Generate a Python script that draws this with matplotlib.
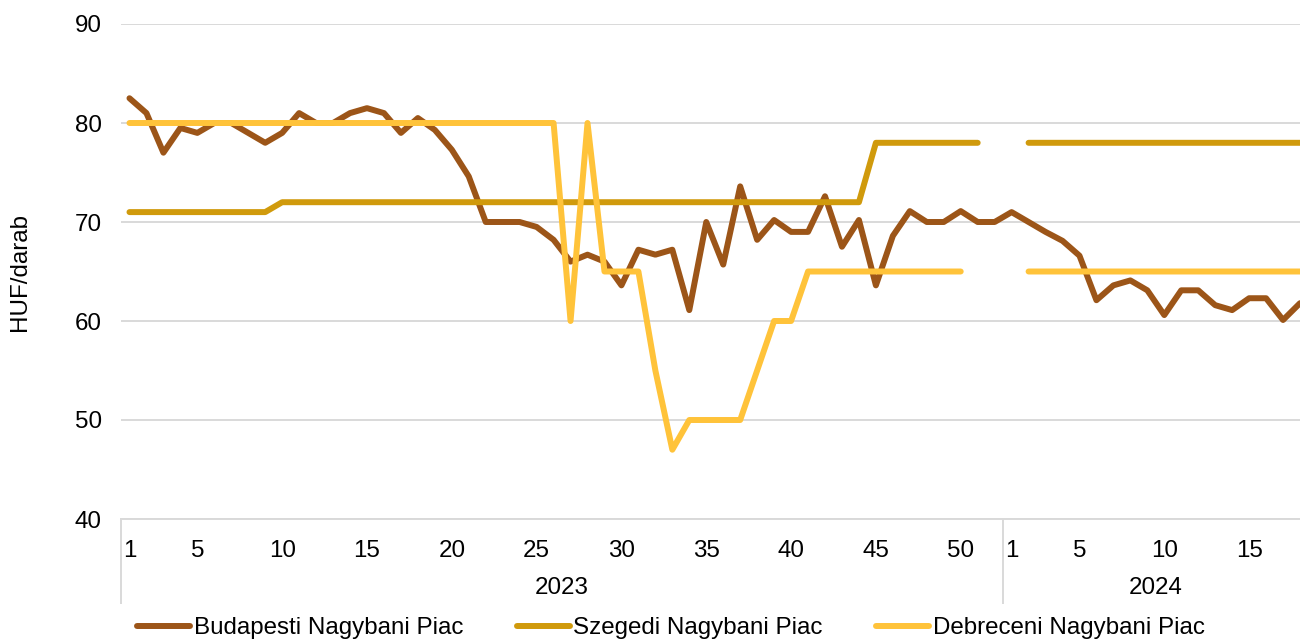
import numpy as np
import matplotlib
matplotlib.use("Agg")
import matplotlib.pyplot as plt

nan = np.nan

weeks_2023 = list(range(1, 53))
weeks_2024 = list(range(1, 19))
years = ["2023", "2024"]

budapest = [82.5, 81, 77, 79.5, 79, 80, 80, 79, 78, 79,
            81, 80, 80, 81, 81.5, 81, 79, 80.5, 79.3, 77.3,
            74.6, 70, 70, 70, 69.5, 68.2, 66, 66.7, 66, 63.6,
            67.2, 66.7, 67.2, 61.1, 70, 65.7, 73.6, 68.2, 70.2, 69,
            69, 72.6, 67.5, 70.2, 63.6, 68.6, 71.1, 70, 70, 71.1,
            70, 70,
            71, 70, 69, 68.1, 66.6, 62.1, 63.6, 64.1, 63.1, 60.6,
            63.1, 63.1, 61.6, 61.1, 62.3, 62.3, 60.1, 61.8]

szeged = [71] * 9 + [72] * 35 + [78] * 7 + [nan] + [nan] + [78] * 17

debrecen = ([80] * 26 + [60, 80, 65, 65, 65, 55, 47, 50, 50, 50, 50, 55, 60, 60]
            + [65] * 10 + [nan, nan] + [nan] + [65] * 17)

names = ["Budapesti Nagybani Piac", "Szegedi Nagybani Piac", "Debreceni Nagybani Piac"]
colors = ["#9C5518", "#D09A0C", "#FFC33A"]

plt.rcParams["font.family"] = ["Liberation Sans", "DejaVu Sans"]
FS = 17.4


def main():
    labels = weeks_2023 + weeks_2024
    x = np.arange(len(labels))

    fig = plt.figure(figsize=(13, 6.39), dpi=100)
    ax = fig.add_axes([121 / 1300, 120 / 639, 1 - 121 / 1300, 495 / 639])

    handles = []
    for series, name, color in zip([budapest, szeged, debrecen], names, colors):
        h, = ax.plot(x, series, color=color, lw=4.3, label=name,
                     solid_capstyle="round", solid_joinstyle="round")
        handles.append(h)

    ax.set_xlim(-0.5, len(labels) - 1)
    ax.set_ylim(40, 90)
    ax.set_yticks([40, 50, 60, 70, 80, 90])
    ax.grid(axis="y", color="#D9D9D9", lw=1.4)
    ax.set_axisbelow(True)
    for side in ["top", "right", "left"]:
        ax.spines[side].set_visible(False)
    ax.spines["bottom"].set_color("#D9D9D9")
    ax.spines["bottom"].set_linewidth(1.4)

    shown = [i for i, w in enumerate(labels) if w == 1 or w % 5 == 0]
    ax.set_xticks(shown)
    ax.set_xticklabels([str(labels[i]) for i in shown])
    ax.tick_params(axis="x", length=0, pad=15, labelsize=FS)
    ax.tick_params(axis="y", length=0, pad=14, labelsize=FS)
    ax.set_ylabel("HUF/darab", fontsize=FS, labelpad=31)

    trans = ax.get_xaxis_transform()
    n23 = len(weeks_2023)
    for sep in [-0.5, n23 - 0.5]:
        ax.plot([sep, sep], [0, -0.17], color="#D9D9D9", lw=1.4,
                transform=trans, clip_on=False)
    ax.text((n23 - 1) / 2, -0.14, years[0], transform=trans,
            ha="center", va="center", fontsize=FS)
    ax.text(n23 - 0.5 + len(weeks_2024) / 2, -0.14, years[1], transform=trans,
            ha="center", va="center", fontsize=FS)

    fig.legend(handles=handles, loc="center", bbox_to_anchor=(671 / 1300, 11 / 639),
               ncol=3, frameon=False, fontsize=FS, handlelength=2.2,
               handletextpad=0.15, columnspacing=2.2)

    fig.savefig("out.png", dpi=100)


if __name__ == "__main__":
    main()
